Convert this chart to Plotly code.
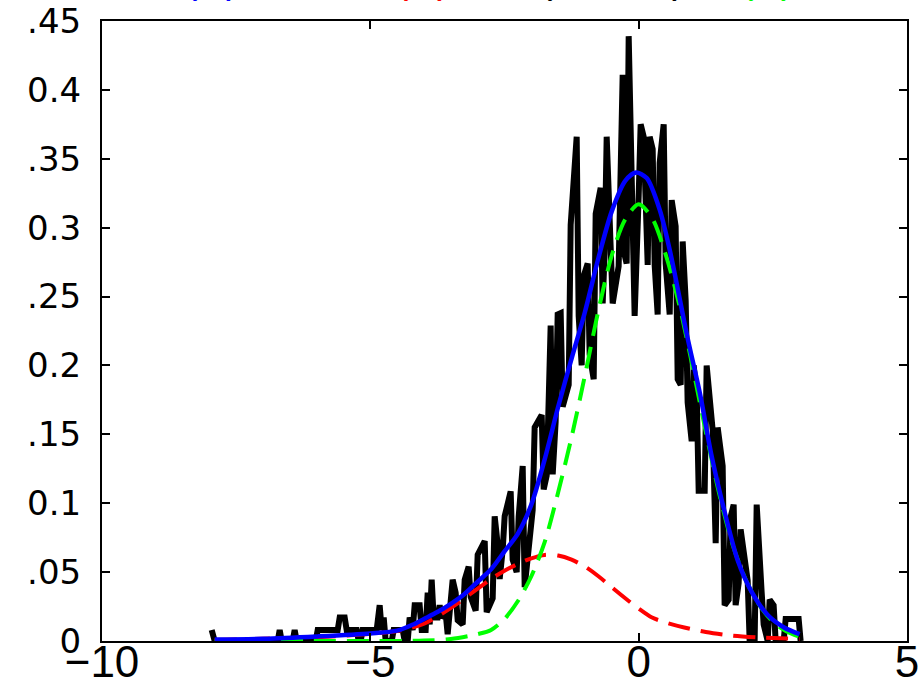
import plotly.graph_objects as go

# ---- histogram trace (black) ----
black_x = [-7.956, -7.900, -6.726, -6.689, -6.652, -6.447, -6.410, -6.372, -6.018, -5.981,
           -5.608, -5.571, -5.478, -5.441, -5.254, -5.217, -5.180, -5.143, -4.882, -4.826,
           -4.789, -4.751, -4.714, -4.602, -4.565, -4.397, -4.360, -4.304, -4.267, -4.211,
           -4.174, -4.081, -4.043, -3.969, -3.931, -3.894, -3.857, -3.820, -3.745, -3.708,
           -3.671, -3.596, -3.559, -3.503, -3.466, -3.410, -3.372, -3.279, -3.242, -3.168,
           -3.130, -3.037, -3.000, -2.869, -2.832, -2.720, -2.683, -2.627, -2.590, -2.534,
           -2.497, -2.385, -2.348, -2.273, -2.236, -2.161, -2.124, -1.975, -1.938, -1.807,
           -1.770, -1.714, -1.677, -1.640, -1.602, -1.547, -1.509, -1.453, -1.416, -1.304,
           -1.267, -1.155, -1.118, -1.062, -1.025, -0.950, -0.913, -0.838, -0.801, -0.708,
           -0.671, -0.634, -0.596, -0.522, -0.484, -0.373, -0.335, -0.298, -0.261, -0.224,
           -0.186, -0.112, -0.075, 0.000, 0.037, 0.093, 0.130, 0.168, 0.205, 0.261,
           0.298, 0.354, 0.391, 0.466, 0.503, 0.578, 0.615, 0.689, 0.727, 0.783,
           0.820, 0.876, 0.913, 0.988, 1.025, 1.081, 1.118, 1.230, 1.267, 1.342,
           1.379, 1.435, 1.472, 1.565, 1.602, 1.677, 1.714, 1.770, 1.807, 1.863,
           1.900, 2.031, 2.068, 2.161, 2.199, 2.292, 2.329, 2.404, 2.441, 2.515,
           2.553, 2.702, 2.739, 2.981, 3.018]
black_y = [0.008, 0.0, 0.0, 0.008, 0.0, 0.0, 0.008, 0.0, 0.0, 0.008,
           0.008, 0.017, 0.017, 0.008, 0.008, 0.0, 0.0, 0.008, 0.008, 0.026,
           0.008, 0.017, 0.0, 0.0, 0.008, 0.008, 0.0, 0.0, 0.017, 0.008,
           0.026, 0.026, 0.008, 0.008, 0.035, 0.012, 0.0445, 0.017, 0.017, 0.026,
           0.017, 0.02, 0.005, 0.027, 0.0445, 0.035, 0.015, 0.012, 0.0445, 0.054,
           0.032, 0.022, 0.0626, 0.0725, 0.021, 0.031, 0.0905, 0.07, 0.045, 0.066,
           0.0905, 0.1086, 0.059, 0.05, 0.09, 0.127, 0.039, 0.095, 0.155, 0.164,
           0.11, 0.12, 0.163, 0.229, 0.121, 0.159, 0.237, 0.238, 0.17, 0.186,
           0.302, 0.366, 0.236, 0.2, 0.265, 0.274, 0.208, 0.19, 0.31, 0.329,
           0.245, 0.281, 0.366, 0.3, 0.245, 0.272, 0.357, 0.411, 0.28, 0.274,
           0.439, 0.327, 0.236, 0.323, 0.375, 0.366, 0.303, 0.273, 0.366, 0.357,
           0.273, 0.237, 0.347, 0.375, 0.274, 0.237, 0.32, 0.301, 0.19, 0.186,
           0.29, 0.247, 0.173, 0.145, 0.2, 0.18, 0.109, 0.109, 0.2, 0.173,
           0.153, 0.071, 0.155, 0.127, 0.026, 0.03, 0.09, 0.099, 0.026, 0.042,
           0.081, 0.044, 0.0, 0.0, 0.099, 0.035, 0.012, 0.0, 0.03, 0.026,
           0.0, 0.0, 0.016, 0.016, 0.0]
assert len(black_x) == len(black_y)

# ---- mixture density (blue) ----
blue_x = [-7.9, -7.0, -6.0, -5.0, -4.5, -4.2, -4.0, -3.75, -3.5, -3.25, -3.0, -2.75,
          -2.5, -2.25, -2.0, -1.75, -1.5, -1.25, -1.0, -0.75, -0.5, -0.25, -0.05, 0.15,
          0.4, 0.6, 0.9, 1.15, 1.35, 1.6, 1.85, 2.1, 2.4, 2.7, 3.0]
blue_y = [0.001, 0.0016, 0.0033, 0.0055, 0.0075, 0.012, 0.016, 0.021, 0.027, 0.034, 0.043, 0.052,
          0.065, 0.078, 0.099, 0.132, 0.170, 0.205, 0.239, 0.278, 0.312, 0.334, 0.340, 0.336,
          0.312, 0.280, 0.222, 0.178, 0.136, 0.094, 0.058, 0.036, 0.019, 0.010, 0.005]

# ---- component 1 (red dashed) ----
red_x = [-7.9, -6.0, -5.0, -4.5, -4.0, -3.5, -3.0, -2.75, -2.5, -2.25, -2.0, -1.75, -1.5,
         -1.25, -1.0, -0.75, -0.5, -0.25, 0.0, 0.25, 0.5, 0.85, 1.25, 1.75, 2.25, 3.0]
red_y = [0.0008, 0.0028, 0.0052, 0.0072, 0.0125, 0.024, 0.038, 0.045, 0.051, 0.056, 0.060, 0.0625, 0.062,
         0.059, 0.054, 0.047, 0.039, 0.031, 0.0235, 0.017, 0.0135, 0.0098, 0.0065, 0.0038, 0.0025, 0.0015]

# ---- component 2 (green dashed) ----
green_x = [-7.9, -5.0, -4.0, -3.5, -3.0, -2.75, -2.5, -2.25, -2.0, -1.75, -1.5, -1.25, -1.0,
           -0.75, -0.5, -0.25, 0.0, 0.25, 0.5, 0.75, 1.0, 1.25, 1.5, 1.75, 2.0, 2.25, 2.5,
           2.75, 3.0]
green_y = [0.0, 0.0, 0.0003, 0.0015, 0.005, 0.008, 0.016, 0.029, 0.047, 0.072, 0.108, 0.148, 0.193,
           0.240, 0.280, 0.306, 0.317, 0.307, 0.281, 0.245, 0.200, 0.152, 0.107, 0.070, 0.044, 0.026, 0.014,
           0.007, 0.003]

y_tickvals = [0, 0.05, 0.1, 0.15, 0.2, 0.25, 0.3, 0.35, 0.4, 0.45]
y_ticktext = ["0", ".05", "0.1", ".15", "0.2", ".25", "0.3", ".35", "0.4", ".45"]
x_tickvals = [-10, -5, 0, 5]

# cut-off title fragments at the very top (bottoms of parentheses)
title_parts = [("(", 0.111, "#0000ff"), (")", 0.162, "#0000ff"),
               ("(", 0.373, "#ff0000"), (")", 0.424, "#ff0000"),
               ("(", 0.551, "#000000"), (")", 0.716, "#000000"),
               ("(", 0.801, "#00ff00"), (")", 0.851, "#00ff00")]

fig = go.Figure()
fig.add_trace(go.Scatter(x=black_x, y=black_y, mode="lines",
                         line=dict(color="black", width=6), showlegend=False))
fig.add_trace(go.Scatter(x=red_x, y=red_y, mode="lines",
                         line=dict(color="#ff0000", width=4, dash="22px,11px", shape="spline", smoothing=0.8),
                         showlegend=False))
fig.add_trace(go.Scatter(x=green_x, y=green_y, mode="lines",
                         line=dict(color="#00ff00", width=4, dash="22px,11px", shape="spline", smoothing=0.8),
                         showlegend=False))
fig.add_trace(go.Scatter(x=blue_x, y=blue_y, mode="lines",
                         line=dict(color="#0000ff", width=4.5, shape="spline", smoothing=0.8),
                         showlegend=False))

for ch, xp, col in title_parts:
    fig.add_annotation(text=ch, xref="paper", yref="paper", x=xp, y=1.029,
                       xanchor="center", yanchor="bottom", showarrow=False,
                       font=dict(family="Liberation Sans, Arial", size=40, color=col))

axis_common = dict(showline=True, linecolor="black", linewidth=2, mirror="ticks",
                   ticks="inside", ticklen=8, tickwidth=2, tickcolor="black",
                   showgrid=False, zeroline=False, automargin=False)

fig.update_xaxes(range=[-10, 5], tickvals=x_tickvals, **axis_common,
                 ticklabelstandoff=-19,
                 tickfont=dict(family="Liberation Sans, Arial", size=44, color="black"))
fig.update_yaxes(range=[0, 0.45], tickvals=y_tickvals, ticktext=y_ticktext, **axis_common,
                 ticklabelstandoff=12,
                 tickfont=dict(family="DejaVu Sans", size=34, color="black"))

fig.update_layout(width=920, height=683, margin=dict(l=102, r=13, t=21, b=42, autoexpand=False),
                  paper_bgcolor="white", plot_bgcolor="white", showlegend=False)

fig.write_html("out.html")
